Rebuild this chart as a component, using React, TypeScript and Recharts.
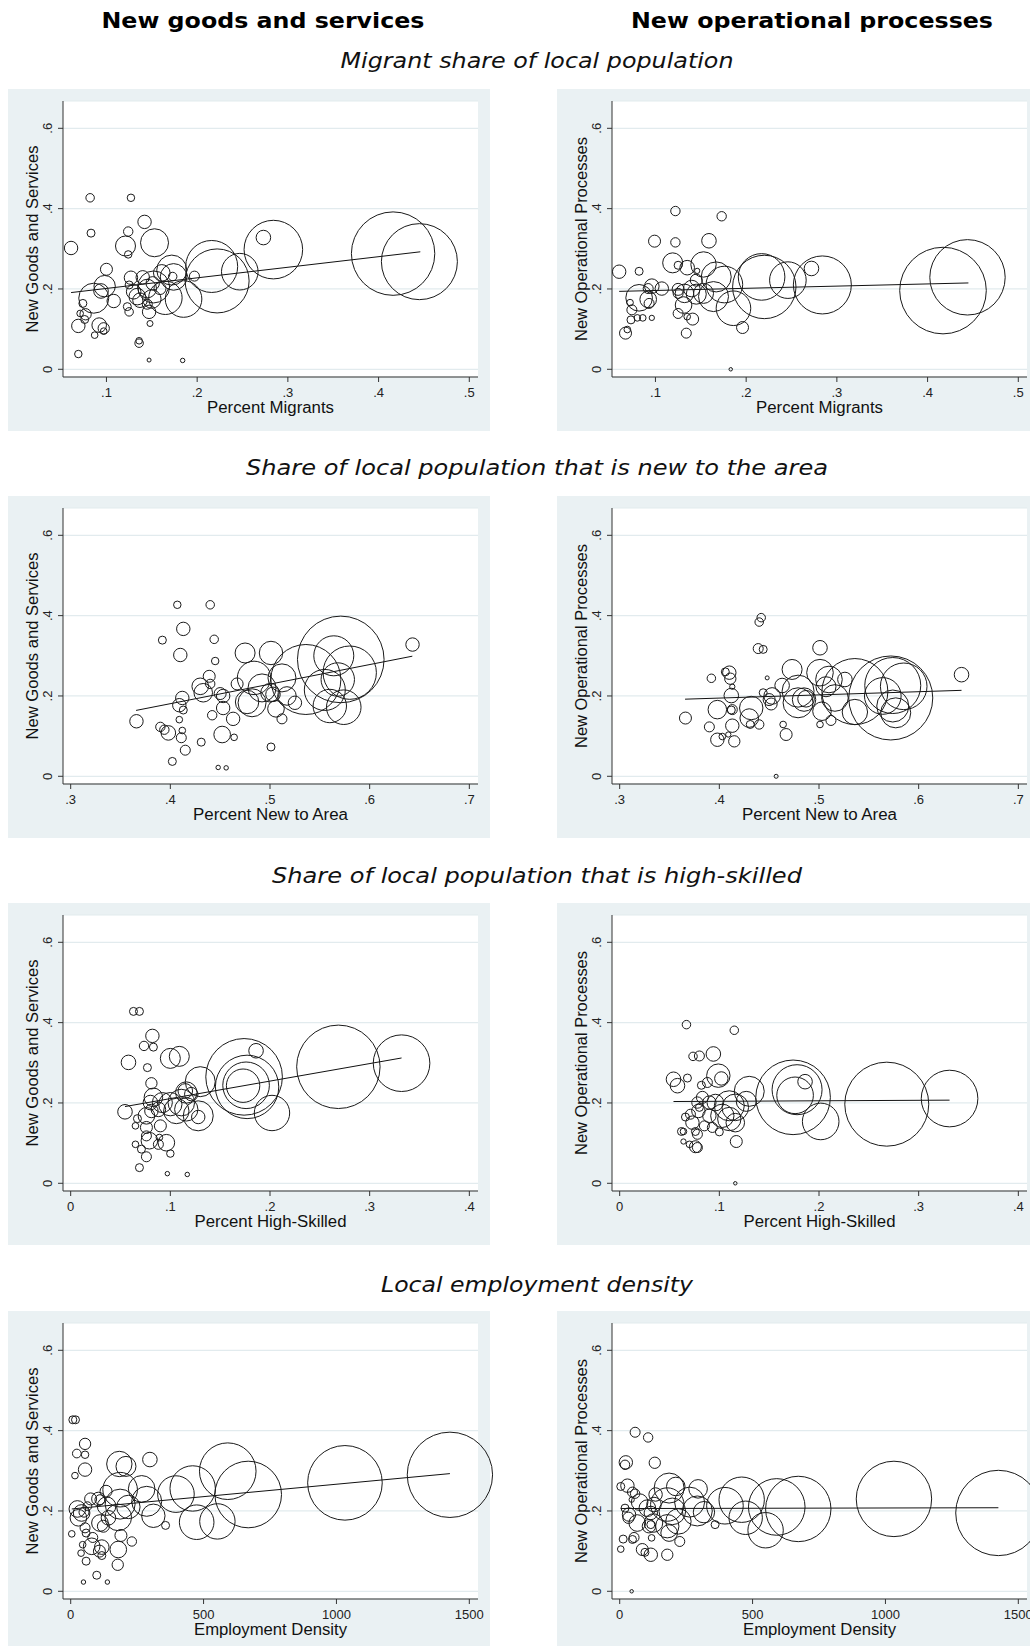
import React from 'react';
import { ScatterChart, Scatter, XAxis, YAxis, ZAxis, CartesianGrid, ReferenceLine } from 'recharts';

// ---------- column / row titles ----------
const columnTitles = ['New goods and services', 'New operational processes'];
const rowTitles = [
  'Migrant share of local population',
  'Share of local population that is new to the area',
  'Share of local population that is high-skilled',
  'Local employment density',
];
const yTitles = ['New Goods and Services', 'New Operational Processes'];
const xTitles = ['Percent Migrants', 'Percent New to Area', 'Percent High-Skilled', 'Employment Density'];

// ---------- axes ----------
const yTicks = [0, 0.2, 0.4, 0.6];
const xTicksMigrants = [0.1, 0.2, 0.3, 0.4, 0.5];
const xTicksNewArea = [0.3, 0.4, 0.5, 0.6, 0.7];
const xTicksHighSkill = [0, 0.1, 0.2, 0.3, 0.4];
const xTicksDensity = [0, 500, 1000, 1500];

// ---------- data: [x, y, weight] ----------
const migrantsGoods: [number, number, number][] = [
  [0.416, 0.288, 1739], [0.445, 0.268, 1444], [0.284, 0.298, 858], [0.273, 0.328, 53], [0.216, 0.256, 676],
  [0.222, 0.22, 1024], [0.247, 0.243, 335], [0.185, 0.175, 335], [0.165, 0.178, 279], [0.172, 0.247, 225],
  [0.174, 0.23, 177], [0.061, 0.302, 45], [0.082, 0.427, 18], [0.127, 0.427, 14], [0.083, 0.339, 16],
  [0.142, 0.367, 45], [0.124, 0.343, 22], [0.153, 0.315, 196], [0.121, 0.307, 100], [0.124, 0.286, 14],
  [0.1, 0.249, 36], [0.098, 0.207, 114], [0.094, 0.195, 53], [0.086, 0.177, 225], [0.108, 0.17, 45],
  [0.074, 0.164, 16], [0.071, 0.139, 11], [0.077, 0.137, 32], [0.076, 0.124, 16], [0.069, 0.108, 45],
  [0.092, 0.11, 53], [0.097, 0.102, 32], [0.097, 0.095, 11], [0.087, 0.085, 11], [0.069, 0.038, 14],
  [0.136, 0.071, 11], [0.136, 0.065, 18], [0.148, 0.114, 9], [0.147, 0.023, 4], [0.184, 0.022, 5],
  [0.125, 0.143, 18], [0.123, 0.156, 16], [0.147, 0.143, 45], [0.125, 0.21, 16], [0.127, 0.228, 45],
  [0.13, 0.193, 53], [0.134, 0.181, 69], [0.137, 0.172, 53], [0.14, 0.229, 45], [0.145, 0.201, 86],
  [0.151, 0.214, 45], [0.159, 0.201, 36], [0.161, 0.24, 69], [0.173, 0.231, 18], [0.197, 0.232, 25],
  [0.15, 0.175, 86], [0.145, 0.162, 25], [0.152, 0.205, 256],
];
const migrantsOps: [number, number, number][] = [
  [0.417, 0.196, 1875], [0.444, 0.229, 1421], [0.284, 0.21, 841], [0.272, 0.251, 53], [0.246, 0.222, 335],
  [0.217, 0.23, 543], [0.22, 0.205, 1005], [0.186, 0.152, 299], [0.196, 0.104, 36], [0.183, 0.0, 3],
  [0.173, 0.381, 22], [0.122, 0.394, 22], [0.099, 0.319, 36], [0.122, 0.316, 22], [0.159, 0.32, 53],
  [0.06, 0.243, 45], [0.082, 0.244, 16], [0.119, 0.265, 100], [0.125, 0.259, 16], [0.135, 0.253, 53],
  [0.153, 0.261, 161], [0.146, 0.245, 7], [0.167, 0.23, 225], [0.176, 0.211, 335], [0.164, 0.181, 225],
  [0.092, 0.201, 25], [0.096, 0.207, 53], [0.107, 0.201, 45], [0.082, 0.178, 177], [0.092, 0.174, 69],
  [0.093, 0.164, 25], [0.072, 0.166, 11], [0.074, 0.148, 25], [0.073, 0.123, 16], [0.08, 0.128, 11],
  [0.086, 0.128, 11], [0.096, 0.128, 7], [0.067, 0.09, 36], [0.069, 0.099, 11], [0.125, 0.199, 36],
  [0.125, 0.189, 25], [0.131, 0.16, 69], [0.125, 0.139, 25], [0.135, 0.131, 11], [0.141, 0.125, 36],
  [0.134, 0.09, 25], [0.132, 0.189, 86], [0.14, 0.201, 69], [0.145, 0.222, 36], [0.145, 0.187, 100],
  [0.153, 0.189, 100],
];
const newAreaGoods: [number, number, number][] = [
  [0.571, 0.291, 1875], [0.536, 0.241, 1225], [0.568, 0.241, 279], [0.58, 0.258, 711], [0.56, 0.175, 279],
  [0.574, 0.172, 299], [0.564, 0.3, 400], [0.643, 0.328, 45], [0.501, 0.307, 137], [0.475, 0.307, 100],
  [0.512, 0.245, 196], [0.484, 0.245, 279], [0.492, 0.22, 196], [0.482, 0.183, 196], [0.477, 0.185, 137],
  [0.5, 0.208, 86], [0.503, 0.204, 53], [0.517, 0.2, 86], [0.525, 0.183, 45], [0.506, 0.168, 69],
  [0.512, 0.143, 25], [0.501, 0.073, 16], [0.467, 0.23, 36], [0.463, 0.143, 45], [0.464, 0.097, 11],
  [0.452, 0.104, 69], [0.453, 0.17, 45], [0.45, 0.206, 36], [0.453, 0.2, 45], [0.442, 0.152, 22],
  [0.448, 0.022, 5], [0.456, 0.021, 5], [0.431, 0.085, 16], [0.43, 0.224, 69], [0.433, 0.208, 86],
  [0.439, 0.249, 36], [0.44, 0.23, 22], [0.445, 0.287, 14], [0.444, 0.341, 18], [0.44, 0.427, 18],
  [0.407, 0.427, 14], [0.413, 0.367, 45], [0.392, 0.339, 16], [0.41, 0.302, 45], [0.412, 0.195, 45],
  [0.409, 0.177, 45], [0.413, 0.165, 16], [0.409, 0.141, 11], [0.366, 0.137, 45], [0.39, 0.123, 22],
  [0.394, 0.116, 22], [0.398, 0.108, 53], [0.412, 0.114, 11], [0.411, 0.096, 25], [0.415, 0.065, 25],
  [0.402, 0.037, 16], [0.555, 0.215, 420],
];
const newAreaOps: [number, number, number][] = [
  [0.572, 0.195, 1764], [0.536, 0.211, 1089], [0.574, 0.226, 784], [0.585, 0.224, 543], [0.574, 0.175, 256],
  [0.577, 0.158, 225], [0.564, 0.2, 336], [0.536, 0.16, 161], [0.643, 0.253, 53], [0.501, 0.32, 53],
  [0.501, 0.258, 177], [0.51, 0.241, 177], [0.516, 0.195, 177], [0.507, 0.223, 100], [0.526, 0.241, 53],
  [0.503, 0.162, 86], [0.512, 0.139, 25], [0.501, 0.129, 11], [0.473, 0.266, 100], [0.479, 0.212, 256],
  [0.479, 0.183, 225], [0.485, 0.191, 137], [0.487, 0.193, 69], [0.463, 0.226, 53], [0.464, 0.129, 11],
  [0.467, 0.104, 36], [0.448, 0.245, 4], [0.453, 0.2, 69], [0.45, 0.191, 36], [0.452, 0.18, 36],
  [0.444, 0.208, 16], [0.432, 0.17, 137], [0.43, 0.145, 86], [0.431, 0.129, 16], [0.44, 0.129, 22],
  [0.442, 0.395, 18], [0.44, 0.384, 18], [0.439, 0.318, 25], [0.444, 0.316, 16], [0.457, 0.0, 4],
  [0.392, 0.244, 18], [0.406, 0.26, 16], [0.41, 0.258, 45], [0.411, 0.243, 32], [0.413, 0.223, 7],
  [0.412, 0.201, 53], [0.412, 0.165, 16], [0.413, 0.166, 25], [0.413, 0.126, 45], [0.409, 0.104, 7],
  [0.398, 0.166, 86], [0.39, 0.123, 25], [0.366, 0.145, 36], [0.398, 0.091, 45], [0.403, 0.099, 11],
  [0.415, 0.087, 32],
];
const highSkillGoods: [number, number, number][] = [
  [0.2686, 0.29, 1739], [0.332, 0.299, 801], [0.174, 0.265, 1467], [0.177, 0.24, 1005], [0.176, 0.244, 543],
  [0.173, 0.243, 279], [0.186, 0.33, 53], [0.202, 0.175, 313], [0.13, 0.253, 225], [0.128, 0.168, 225],
  [0.128, 0.165, 45], [0.1, 0.311, 100], [0.109, 0.316, 100], [0.106, 0.18, 161], [0.1, 0.197, 136],
  [0.111, 0.201, 177], [0.116, 0.226, 114], [0.115, 0.23, 53], [0.121, 0.222, 45], [0.116, 0.184, 136],
  [0.092, 0.201, 100], [0.088, 0.184, 53], [0.083, 0.214, 86], [0.08, 0.201, 53], [0.081, 0.18, 45],
  [0.076, 0.168, 69], [0.0545, 0.178, 53], [0.058, 0.301, 53], [0.063, 0.428, 16], [0.069, 0.428, 16],
  [0.082, 0.367, 45], [0.0736, 0.342, 22], [0.083, 0.339, 16], [0.077, 0.288, 16], [0.081, 0.249, 32],
  [0.067, 0.161, 16], [0.065, 0.143, 11], [0.076, 0.139, 36], [0.076, 0.118, 25], [0.079, 0.106, 69],
  [0.09, 0.143, 36], [0.089, 0.114, 11], [0.088, 0.097, 25], [0.096, 0.101, 69], [0.065, 0.097, 11],
  [0.071, 0.085, 16], [0.076, 0.066, 25], [0.069, 0.039, 16], [0.1, 0.074, 14], [0.097, 0.024, 5],
  [0.117, 0.022, 5],
];
const highSkillOps: [number, number, number][] = [
  [0.268, 0.197, 1764], [0.331, 0.211, 801], [0.174, 0.214, 1391], [0.178, 0.233, 625], [0.176, 0.219, 335],
  [0.186, 0.253, 53], [0.2017, 0.154, 335], [0.13, 0.229, 225], [0.127, 0.204, 100], [0.117, 0.104, 36],
  [0.116, 0.0, 3], [0.115, 0.381, 18], [0.067, 0.395, 18], [0.094, 0.322, 53], [0.0736, 0.316, 18],
  [0.08, 0.317, 25], [0.099, 0.268, 137], [0.102, 0.261, 45], [0.054, 0.259, 53], [0.058, 0.243, 53],
  [0.068, 0.262, 16], [0.082, 0.244, 16], [0.088, 0.251, 25], [0.11, 0.193, 225], [0.116, 0.189, 177],
  [0.11, 0.16, 136], [0.116, 0.151, 86], [0.103, 0.168, 136], [0.096, 0.201, 69], [0.09, 0.201, 45],
  [0.083, 0.214, 36], [0.078, 0.201, 32], [0.079, 0.18, 45], [0.08, 0.189, 16], [0.071, 0.172, 25],
  [0.066, 0.165, 16], [0.073, 0.151, 45], [0.085, 0.143, 25], [0.09, 0.168, 45], [0.093, 0.139, 25],
  [0.1, 0.128, 16], [0.062, 0.129, 16], [0.064, 0.129, 11], [0.076, 0.129, 16], [0.078, 0.122, 25],
  [0.064, 0.104, 7], [0.07, 0.097, 11], [0.076, 0.091, 36], [0.078, 0.089, 25],
];
const densityGoods: [number, number, number][] = [
  [1427, 0.29, 1820], [1032, 0.27, 1391], [668, 0.241, 1109], [591, 0.299, 801], [459, 0.256, 515],
  [396, 0.242, 335], [474, 0.172, 299], [552, 0.174, 313], [267, 0.255, 177], [286, 0.224, 225],
  [311, 0.188, 137], [186, 0.253, 299], [186, 0.217, 225], [183, 0.317, 161], [208, 0.311, 100],
  [298, 0.328, 53], [179, 0.184, 177], [217, 0.21, 137], [135, 0.212, 86], [142, 0.183, 53],
  [110, 0.17, 69], [123, 0.162, 36], [133, 0.249, 36], [104, 0.23, 45], [110, 0.228, 25],
  [75, 0.23, 36], [63, 0.212, 19], [25, 0.205, 69], [41, 0.195, 69], [29, 0.183, 69],
  [50, 0.197, 25], [54, 0.158, 25], [58, 0.145, 16], [4, 0.143, 11], [83, 0.134, 25],
  [45, 0.116, 11], [79, 0.112, 69], [39, 0.095, 11], [58, 0.075, 16], [48, 0.023, 5],
  [98, 0.04, 16], [138, 0.023, 5], [108, 0.1, 36], [117, 0.11, 53], [117, 0.089, 16],
  [179, 0.104, 69], [177, 0.066, 32], [189, 0.139, 36], [230, 0.124, 22], [357, 0.164, 16],
  [8, 0.427, 16], [18, 0.427, 16], [54, 0.367, 32], [23, 0.343, 19], [54, 0.34, 14],
  [54, 0.303, 45], [16, 0.288, 11],
];
const densityOps: [number, number, number][] = [
  [1425, 0.195, 1820], [1032, 0.23, 1421], [672, 0.205, 1069], [591, 0.21, 801], [549, 0.152, 313],
  [459, 0.228, 515], [396, 0.213, 335], [474, 0.183, 279], [295, 0.255, 86], [263, 0.222, 225],
  [292, 0.2, 225], [317, 0.197, 114], [359, 0.166, 16], [186, 0.257, 225], [211, 0.261, 86],
  [179, 0.216, 279], [198, 0.199, 177], [221, 0.174, 161], [179, 0.162, 136], [186, 0.145, 69],
  [226, 0.124, 25], [179, 0.091, 32], [132, 0.32, 32], [58, 0.396, 25], [107, 0.383, 22],
  [23, 0.321, 45], [20, 0.315, 22], [4, 0.261, 16], [29, 0.263, 45], [48, 0.247, 25],
  [58, 0.243, 22], [45, 0.228, 7], [75, 0.222, 69], [20, 0.207, 16], [35, 0.191, 45],
  [33, 0.183, 32], [66, 0.17, 69], [104, 0.207, 69], [117, 0.195, 45], [110, 0.162, 45],
  [117, 0.166, 16], [135, 0.241, 45], [129, 0.216, 53], [127, 0.17, 86], [13, 0.13, 16],
  [54, 0.134, 25], [48, 0.129, 16], [4, 0.105, 11], [85, 0.104, 36], [95, 0.097, 16],
  [117, 0.091, 45], [120, 0.133, 11], [45, 0.0, 3],
];

// ---------- fitted lines: [[x0, y0], [x1, y1]] ----------
const migrantsGoodsFit = [[0.061, 0.191], [0.446, 0.2925]];
const migrantsOpsFit = [[0.06, 0.194], [0.445, 0.215]];
const newAreaGoodsFit = [[0.3656, 0.164], [0.6428, 0.299]];
const newAreaOpsFit = [[0.3656, 0.192], [0.643, 0.214]];
const highSkillGoodsFit = [[0.0545, 0.191], [0.332, 0.312]];
const highSkillOpsFit = [[0.054, 0.2036], [0.331, 0.207]];
const densityGoodsFit = [[4, 0.205], [1427, 0.293]];
const densityOpsFit = [[4, 0.206], [1425, 0.208]];

// ---------- styling ----------
const BG = '#EAF1F3';
const GRID = '#E2EBEE';
const AXIS = '#333';
const SANS = '"Liberation Sans", Arial, sans-serif';
const VERDANA = '"DejaVu Sans", Verdana, sans-serif';
const Y_DOMAIN: [number, number] = [-0.0192, 0.668];
const PANEL_W = 482;
const PANEL_H = 342;
const ROW_TOPS = [89, 496, 903, 1311];
const COL_LEFTS = [8, 557];

const fmtShare = (v: number) => (v === 0 ? '0' : String(v).replace(/^0\./, '.'));
const fmtInt = (v: number) => String(v);

const YTick = (props: any) => {
  const { x, y, payload } = props;
  return (
    <text x={x} y={y} transform={`rotate(-90 ${x} ${y})`} textAnchor="middle" fontSize={13} fontFamily={SANS} fill="#222">
      {fmtShare(payload.value)}
    </text>
  );
};

type PanelProps = {
  left: number;
  top: number;
  points: [number, number, number][];
  fit: number[][];
  xDomain: [number, number];
  xTicks: number[];
  xFmt: (v: number) => string;
  xTitle: string;
  xTitleLen: number;
  yTitle: string;
  yTitleLen: number;
};

function Panel(p: PanelProps) {
  const data = p.points.map(([x, y, w]) => ({ x, y, w }));
  const xLabel = (props: any) => {
    const vb = props.viewBox || {};
    const cx = (vb.x ?? 55) + (vb.width ?? 415) / 2;
    const by = (vb.y ?? 288) + 35.5;
    return (
      <text x={cx} y={by} textAnchor="middle" fontSize={16} fontFamily={SANS} fill="#111" textLength={p.xTitleLen} lengthAdjust="spacingAndGlyphs">
        {p.xTitle}
      </text>
    );
  };
  const yLabel = (props: any) => {
    const vb = props.viewBox || {};
    const bx = (vb.x ?? 0) + 30;
    const cy = (vb.y ?? 12) + (vb.height ?? 276) / 2;
    return (
      <text x={bx} y={cy} transform={`rotate(-90 ${bx} ${cy})`} textAnchor="middle" fontSize={16} fontFamily={SANS} fill="#111" textLength={p.yTitleLen} lengthAdjust="spacingAndGlyphs">
        {p.yTitle}
      </text>
    );
  };
  return (
    <div style={{ position: 'absolute', left: p.left, top: p.top, width: PANEL_W, height: PANEL_H, background: BG }}>
      <div style={{ position: 'absolute', left: 0, top: 0 }}>
        <ScatterChart width={PANEL_W + 30} height={PANEL_H} margin={{ top: 12, right: 42, bottom: 0, left: 0 }}>
          <CartesianGrid vertical={false} stroke={GRID} strokeWidth={1.2} fill="#fff" />
          <XAxis
            type="number"
            dataKey="x"
            domain={p.xDomain}
            ticks={p.xTicks}
            interval={0}
            height={54}
            tickSize={5}
            tickMargin={6}
            stroke={AXIS}
            tick={{ fill: '#222', fontSize: 13, fontFamily: SANS }}
            tickFormatter={p.xFmt}
            label={xLabel}
          />
          <YAxis
            type="number"
            dataKey="y"
            domain={Y_DOMAIN}
            ticks={yTicks}
            interval={0}
            width={55}
            tickSize={5}
            tickMargin={6}
            stroke={AXIS}
            tick={<YTick />}
            label={yLabel}
          />
          <ZAxis type="number" dataKey="w" domain={[0, 2000]} range={[0, 2000 * Math.PI]} />
          <Scatter data={data} fill="none" stroke="#1a1a1a" strokeWidth={1} isAnimationActive={false} />
          <ReferenceLine
            segment={[{ x: p.fit[0][0], y: p.fit[0][1] }, { x: p.fit[1][0], y: p.fit[1][1] }]}
            stroke="#111"
            strokeWidth={1}
            ifOverflow="visible"
          />
        </ScatterChart>
      </div>
    </div>
  );
}

const rows = [
  { goods: migrantsGoods, ops: migrantsOps, gFit: migrantsGoodsFit, oFit: migrantsOpsFit, domain: [0.0521, 0.5096] as [number, number], ticks: xTicksMigrants, fmt: fmtShare, xLen: 127 },
  { goods: newAreaGoods, ops: newAreaOps, gFit: newAreaGoodsFit, oFit: newAreaOpsFit, domain: [0.2923, 0.7087] as [number, number], ticks: xTicksNewArea, fmt: fmtShare, xLen: 155 },
  { goods: highSkillGoods, ops: highSkillOps, gFit: highSkillGoodsFit, oFit: highSkillOpsFit, domain: [-0.0077, 0.4087] as [number, number], ticks: xTicksHighSkill, fmt: fmtShare, xLen: 152 },
  { goods: densityGoods, ops: densityOps, gFit: densityGoodsFit, oFit: densityOpsFit, domain: [-29, 1532.7] as [number, number], ticks: xTicksDensity, fmt: fmtInt, xLen: 153 },
];
const rowTitleBaselines = [68, 475, 883, 1292];
const rowTitleLens = [393, 582, 530, 312];
const colTitleCenters = [263, 812];
const colTitleLens = [323, 362];
const yTitleLens = [187, 204];

export default function App() {
  return (
    <div style={{ position: 'absolute', left: 0, top: 0, width: 1030, height: 1646, overflow: 'hidden', background: '#fff' }}>
      <svg width={1030} height={1646} style={{ position: 'absolute', left: 0, top: 0 }}>
        {columnTitles.map((t, i) => (
          <text key={t} x={colTitleCenters[i]} y={28.3} textAnchor="middle" fontFamily={VERDANA} fontWeight="bold" fontSize={21} fill="#000" textLength={colTitleLens[i]} lengthAdjust="spacingAndGlyphs">
            {t}
          </text>
        ))}
        {rowTitles.map((t, i) => (
          <text key={t} x={537} y={rowTitleBaselines[i]} textAnchor="middle" fontFamily={VERDANA} fontStyle="italic" fontSize={20.5} fill="#111" textLength={rowTitleLens[i]} lengthAdjust="spacingAndGlyphs">
            {t}
          </text>
        ))}
      </svg>
      {rows.map((r, i) => (
        <React.Fragment key={i}>
          <Panel left={COL_LEFTS[0]} top={ROW_TOPS[i]} points={r.goods} fit={r.gFit} xDomain={r.domain} xTicks={r.ticks} xFmt={r.fmt} xTitle={xTitles[i]} xTitleLen={r.xLen} yTitle={yTitles[0]} yTitleLen={yTitleLens[0]} />
          <Panel left={COL_LEFTS[1]} top={ROW_TOPS[i]} points={r.ops} fit={r.oFit} xDomain={r.domain} xTicks={r.ticks} xFmt={r.fmt} xTitle={xTitles[i]} xTitleLen={r.xLen} yTitle={yTitles[1]} yTitleLen={yTitleLens[1]} />
        </React.Fragment>
      ))}
    </div>
  );
}
